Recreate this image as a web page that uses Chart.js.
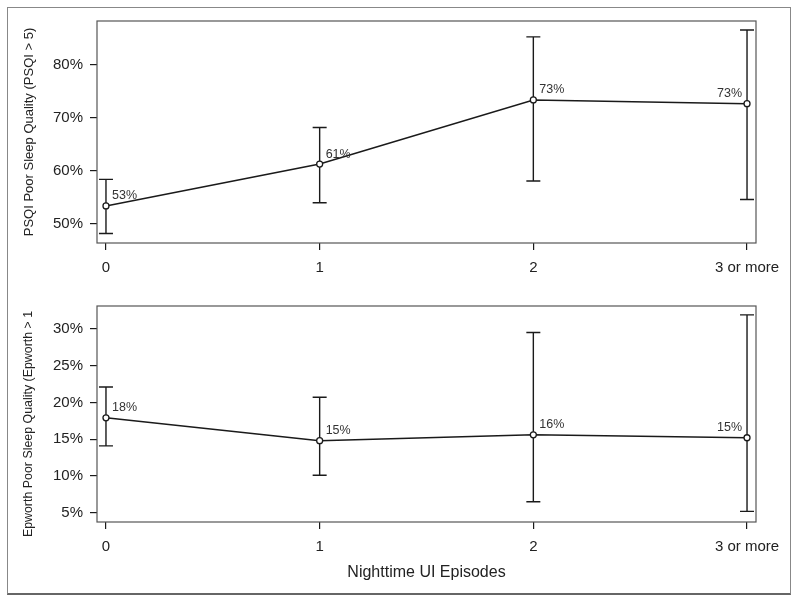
<!DOCTYPE html>
<html>
<head>
<meta charset="utf-8">
<script src="https://cdn.jsdelivr.net/npm/chart.js@4.4.1/dist/chart.umd.min.js"></script>
<style>
  body { margin: 0; background: #fff; }
  #frame { position: absolute; left: 7px; top: 7px; width: 782px; height: 585px;
           border: 1px solid #888; border-bottom: 2px solid #666; }
  #top { position: absolute; left: 0; top: 0; }
  #bottom { position: absolute; left: 0; top: 290px; }
</style>
</head>
<body>
<div id="frame"></div>
<canvas id="top" width="800" height="290"></canvas>
<canvas id="bottom" width="800" height="312"></canvas>
<script>
const categories = ['0', '1', '2', '3 or more'];

const psqi = [53.4, 61.3, 73.4, 72.7];
const psqiLow = [48.2, 54.0, 58.1, 54.6];
const psqiHigh = [58.4, 68.2, 85.3, 86.6];

const epworth = [17.9, 14.8, 15.6, 15.2];
const epworthLow = [14.1, 10.1, 6.5, 5.2];
const epworthHigh = [22.1, 20.7, 29.5, 31.9];

const ink = '#1a1a1a';
const font = 'Arial, "Liberation Sans", Helvetica, sans-serif';

// box around plot area, y title, error bars and value labels
const extras = {
    id: 'extras',
    beforeDatasetsDraw(chart) {
        const { ctx, chartArea: a, scales: { x, y } } = chart;
        const o = chart.options.plugins.extras;
        ctx.save();
        ctx.strokeStyle = '#555';
        ctx.lineWidth = 1.2;
        ctx.strokeRect(a.left, a.top, a.right - a.left, a.bottom - a.top);

        // rotated y title
        ctx.save();
        ctx.translate(29, (a.top + a.bottom) / 2 + o.titleShift);
        ctx.rotate(-Math.PI / 2);
        ctx.font = o.titleSize + 'px ' + font;
        ctx.fillStyle = '#222';
        ctx.textAlign = 'center';
        ctx.textBaseline = 'middle';
        ctx.fillText(o.title, 0, 0);
        ctx.restore();

        ctx.strokeStyle = ink;
        ctx.lineWidth = 1.4;
        o.low.forEach((lo, i) => {
            const px = x.getPixelForValue(i);
            const y1 = y.getPixelForValue(lo), y2 = y.getPixelForValue(o.high[i]);
            ctx.beginPath();
            ctx.moveTo(px, y1); ctx.lineTo(px, y2);
            ctx.moveTo(px - 7, y1); ctx.lineTo(px + 7, y1);
            ctx.moveTo(px - 7, y2); ctx.lineTo(px + 7, y2);
            ctx.stroke();
        });
        ctx.restore();
    },
    afterDatasetsDraw(chart) {
        const { ctx, scales: { x, y } } = chart;
        const vals = chart.data.datasets[0].data;
        ctx.save();
        ctx.font = '12.5px ' + font;
        ctx.fillStyle = '#333';
        ctx.textBaseline = 'middle';
        vals.forEach((p, i) => {
            const px = x.getPixelForValue(p.x), py = y.getPixelForValue(p.y);
            const last = i === vals.length - 1;
            ctx.textAlign = last ? 'right' : 'left';
            ctx.fillText(Math.round(p.y) + '%', last ? px - 5 : px + 6, py - 10);
        });
        ctx.restore();
    }
};

function makeChart(id, values, low, high, yMin, yMax, step, yTitle, titleSize, titleShift, xTitle, pad, xHeight) {
    return new Chart(document.getElementById(id), {
        type: 'scatter',
        data: {
            datasets: [{
                data: values.map((v, i) => ({ x: i, y: v })),
                showLine: true,
                borderColor: ink,
                borderWidth: 1.5,
                pointRadius: 3,
                pointBorderWidth: 1.3,
                pointBackgroundColor: '#fff',
                pointBorderColor: ink
            }]
        },
        options: {
            responsive: false,
            animation: false,
            events: [],
            layout: { padding: pad },
            plugins: {
                legend: { display: false },
                tooltip: { enabled: false },
                extras: { low: low, high: high, title: yTitle, titleSize: titleSize, titleShift: titleShift }
            },
            scales: {
                x: {
                    type: 'linear',
                    min: -0.042,
                    max: 3.042,
                    afterFit: s => { s.height = xHeight; },
                    border: { display: false },
                    grid: { drawOnChartArea: false, drawTicks: true, tickLength: 7, color: ink, lineWidth: 1.2 },
                    ticks: {
                        stepSize: 1, includeBounds: false, autoSkip: false, maxRotation: 0,
                        padding: 9, color: '#222', font: { family: font, size: 15 },
                        callback: v => categories[v]
                    },
                    title: {
                        display: !!xTitle, text: xTitle, color: '#222',
                        font: { family: font, size: 16 }, padding: { top: 0, bottom: 20 }
                    }
                },
                y: {
                    min: yMin,
                    max: yMax,
                    afterFit: s => { s.width = 97; },
                    border: { display: false },
                    grid: { drawOnChartArea: false, drawTicks: true, tickLength: 7, color: ink, lineWidth: 1.2 },
                    ticks: {
                        stepSize: step, includeBounds: false, padding: 7,
                        color: '#222', font: { family: font, size: 15 },
                        callback: v => v + '%'
                    }
                }
            }
        },
        plugins: [extras]
    });
}

makeChart('top', psqi, psqiLow, psqiHigh, 46.4, 88.3, 10,
    'PSQI Poor Sleep Quality (PSQI > 5)', 13, 0, '',
    { left: 0, right: 44, top: 21, bottom: 0 }, 47);

makeChart('bottom', epworth, epworthLow, epworthHigh, 3.75, 33.1, 5,
    'Epworth Poor Sleep Quality (Epworth > 1', 12.4, 10, 'Nighttime UI Episodes',
    { left: 0, right: 44, top: 12, bottom: 0 }, 80);
</script>
</body>
</html>
